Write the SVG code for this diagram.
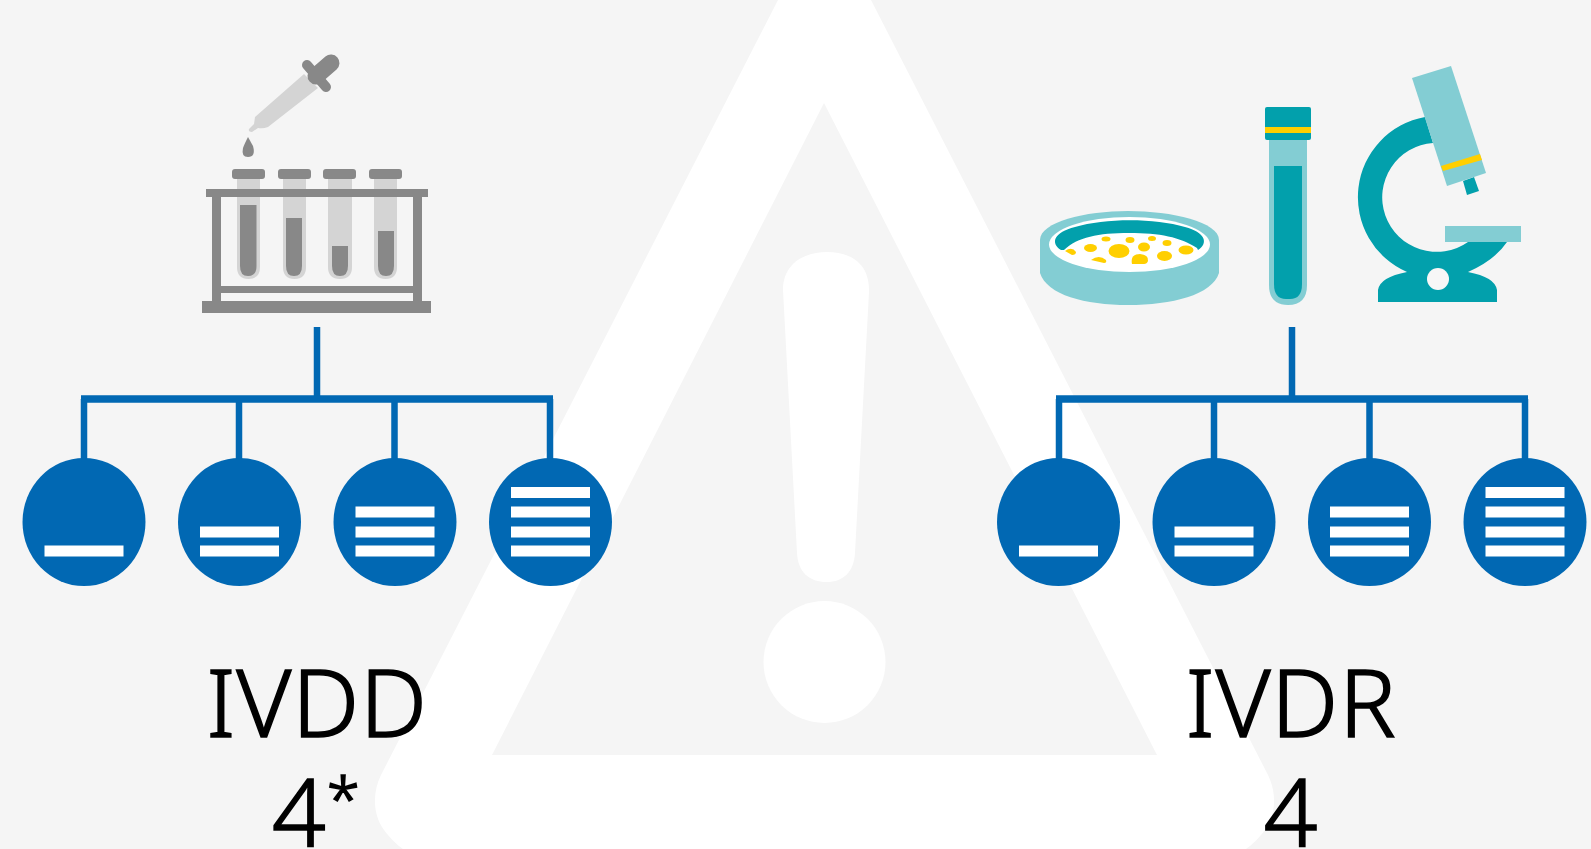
<svg xmlns="http://www.w3.org/2000/svg" width="1591" height="849" viewBox="0 0 1591 849">
<style>
.lbl{font-family:"Noto Sans","DejaVu Sans",sans-serif;font-weight:300;font-size:94px;letter-spacing:1px;fill:#000;stroke:#000;stroke-width:1.600px;text-anchor:middle}
.b{fill:#0168b3}.w{fill:#fff}.g{fill:#888}.lg{fill:#d4d4d4}.t{fill:#02a0ac}.lt{fill:#83cdd3}.y{fill:#ffcf00}
.ln{stroke:#0168b3;stroke-width:6.500;fill:none}
.hz{stroke-width:7.500}
</style>
<rect width="1591" height="849" fill="#f5f5f5"/>
<g id="warning">
<path class="w" fill-rule="evenodd" d="M778 0H871L1268 775C1277 793 1276 815 1265 830C1259 838 1252 845 1246 849H403C397 845 390 838 384 830C373 815 372 793 381 775ZM824 103L492 755H1157Z"/>
<path class="w" d="M783 290C783 263 805 252 827 252C850 252 870 263 869 292L855 553C854 572 843 582 827 582C809 582 798 572 797 553Z"/>
<circle class="w" cx="824.500" cy="662" r="61"/>
</g>
<g id="connectors" class="ln">
<path d="M317 327V402M1292 327V402M84 399V459M239 399V459M394.500 399V459M550 399V459M1059 399V459M1214 399V459M1369.500 399V459M1525 399V459"/>
<path class="hz" d="M81 399H553M1056 399H1528"/>
</g>
<g id="node-ivdd-1"><ellipse class="b" cx="84" cy="522" rx="61.500" ry="64"/><rect class="w" x="44.500" y="545.500" width="79" height="11"/></g>
<g id="node-ivdd-2"><ellipse class="b" cx="239.500" cy="522" rx="61.500" ry="64"/><rect class="w" x="200" y="526.500" width="79" height="11"/><rect class="w" x="200" y="545.500" width="79" height="11"/></g>
<g id="node-ivdd-3"><ellipse class="b" cx="395" cy="522" rx="61.500" ry="64"/><rect class="w" x="355.500" y="506.500" width="79" height="11"/><rect class="w" x="355.500" y="526.500" width="79" height="11"/><rect class="w" x="355.500" y="545.500" width="79" height="11"/></g>
<g id="node-ivdd-4"><ellipse class="b" cx="550.500" cy="522" rx="61.500" ry="64"/><rect class="w" x="511" y="487" width="79" height="11"/><rect class="w" x="511" y="506.500" width="79" height="11"/><rect class="w" x="511" y="526.500" width="79" height="11"/><rect class="w" x="511" y="545.500" width="79" height="11"/></g>
<g id="node-ivdr-1"><ellipse class="b" cx="1058.500" cy="522" rx="61.500" ry="64"/><rect class="w" x="1019" y="545.500" width="79" height="11"/></g>
<g id="node-ivdr-2"><ellipse class="b" cx="1214" cy="522" rx="61.500" ry="64"/><rect class="w" x="1174.500" y="526.500" width="79" height="11"/><rect class="w" x="1174.500" y="545.500" width="79" height="11"/></g>
<g id="node-ivdr-3"><ellipse class="b" cx="1369.500" cy="522" rx="61.500" ry="64"/><rect class="w" x="1330" y="506.500" width="79" height="11"/><rect class="w" x="1330" y="526.500" width="79" height="11"/><rect class="w" x="1330" y="545.500" width="79" height="11"/></g>
<g id="node-ivdr-4"><ellipse class="b" cx="1525" cy="522" rx="61.500" ry="64"/><rect class="w" x="1485.500" y="487" width="79" height="11"/><rect class="w" x="1485.500" y="506.500" width="79" height="11"/><rect class="w" x="1485.500" y="526.500" width="79" height="11"/><rect class="w" x="1485.500" y="545.500" width="79" height="11"/></g>
<g id="icon-rack">
<path class="lg" d="M304 74L318 88L268 127Q263 129 258 128L252 132Q248 132 249 129L254 124L255 117Z"/>
<path d="M307 65L326 87" stroke="#888" stroke-width="10" stroke-linecap="round" fill="none"/>
<path d="M316 76L331 63" stroke="#888" stroke-width="17" stroke-linecap="round" fill="none"/>
<path class="g" d="M248 137L253 146Q256 157 248 157Q241 157 243 148Q244 145 248 137Z"/>
<g class="lg"><path d="M237 178H260V267Q260 279 248.500 279Q237 279 237 267Z"/><path d="M283 178H306V267Q306 279 294.500 279Q283 279 283 267Z"/><path d="M328 178H352V267Q352 279 340 279Q328 279 328 267Z"/><path d="M374 178H397V267Q397 279 385.500 279Q374 279 374 267Z"/></g>
<g class="g"><rect x="232" y="169" width="33" height="10" rx="3"/><rect x="278" y="169" width="33" height="10" rx="3"/><rect x="323" y="169" width="33" height="10" rx="3"/><rect x="369" y="169" width="33" height="10" rx="3"/>
<path d="M240 205H256.500V266Q256.500 276 248 276Q240 276 240 266Z"/><path d="M286 218H302V266Q302 276 294 276Q286 276 286 266Z"/><path d="M332 246H348V266Q348 276 340 276Q332 276 332 266Z"/><path d="M378 231H394V266Q394 276 386 276Q378 276 378 266Z"/>
<rect x="206" y="189" width="222" height="8"/><rect x="212" y="196" width="9" height="108"/><rect x="413" y="196" width="9" height="108"/><rect x="220" y="286" width="194" height="7"/><rect x="202" y="301" width="229" height="12"/></g>
</g>
<g id="icon-dish">
<path class="lt" d="M1040 240C1040 222 1085 211 1128 211C1172 211 1219 222 1219 240V273C1212 295 1172 305 1128 305C1085 305 1047 295 1040 273Z"/>
<ellipse class="w" cx="1129.500" cy="244.500" rx="80.500" ry="27.500"/>
<path class="t" d="M1061 250C1050 243 1054 232 1075 227C1105 218 1155 218 1185 227C1205 232 1209 243 1198 250L1197 248C1180 237 1160 233 1129 233C1098 233 1078 237 1064 250Z"/>
<g class="y"><ellipse cx="1119" cy="251" rx="10.500" ry="7"/><ellipse cx="1090.500" cy="248" rx="6.500" ry="4"/><ellipse cx="1106" cy="239" rx="4.500" ry="2.500"/><ellipse cx="1130" cy="240" rx="4.500" ry="3"/><ellipse cx="1144" cy="247" rx="6" ry="4.500"/><ellipse cx="1152" cy="238.500" rx="4" ry="2.500"/><ellipse cx="1167" cy="243" rx="4.500" ry="3"/><ellipse cx="1164.500" cy="256" rx="7.500" ry="5"/><ellipse cx="1186" cy="250" rx="7.500" ry="4.500"/><path d="M1132 264Q1130 254 1140 254Q1149 255 1148 261Q1147 264 1144 264Z"/><path d="M1091 260Q1099 254 1106 260Q1107 263 1104 263Z"/><path d="M1065 251Q1072 246 1076 252Q1076 255 1072 255Z"/></g>
</g>
<g id="icon-tube">
<path class="lt" d="M1269 137H1307V285Q1307 305 1288 305Q1269 305 1269 285Z"/>
<path class="t" d="M1274 166H1302V284Q1302 299 1290 299H1286Q1274 299 1274 284Z"/>
<rect class="t" x="1265" y="107" width="46" height="33" rx="2"/>
<rect class="y" x="1265" y="127" width="46" height="6"/>
</g>
<g id="icon-scope">
<path class="t" d="M1425 117A81.500 81.500 0 0 0 1407 272Q1380 277 1378 290V302H1497V290Q1495 277 1468 272Q1495 260 1507 242H1468A54.500 54.500 0 1 1 1433 143Z"/>
<circle cx="1438" cy="279" r="11" fill="#f7f7f7"/>
<path class="t" d="M1463 181L1474 177L1479 191L1467 195Z"/>
<path class="lt" d="M1412 78L1451 66L1486 173L1447 186Z"/>
<path class="y" d="M1441 166L1480 154L1482 160L1443 171Z"/>
<rect class="lt" x="1445" y="226" width="76" height="16"/>
</g>
<g id="label-ivdd"><text class="lbl" x="317" y="737">IVDD</text><text class="lbl" x="272" y="847" style="text-anchor:start">4<tspan font-size="60" dy="-26">*</tspan></text></g>
<g id="label-ivdr"><text class="lbl" x="1291" y="737">IVDR</text><text class="lbl" x="1291" y="847">4</text></g>
</svg>
